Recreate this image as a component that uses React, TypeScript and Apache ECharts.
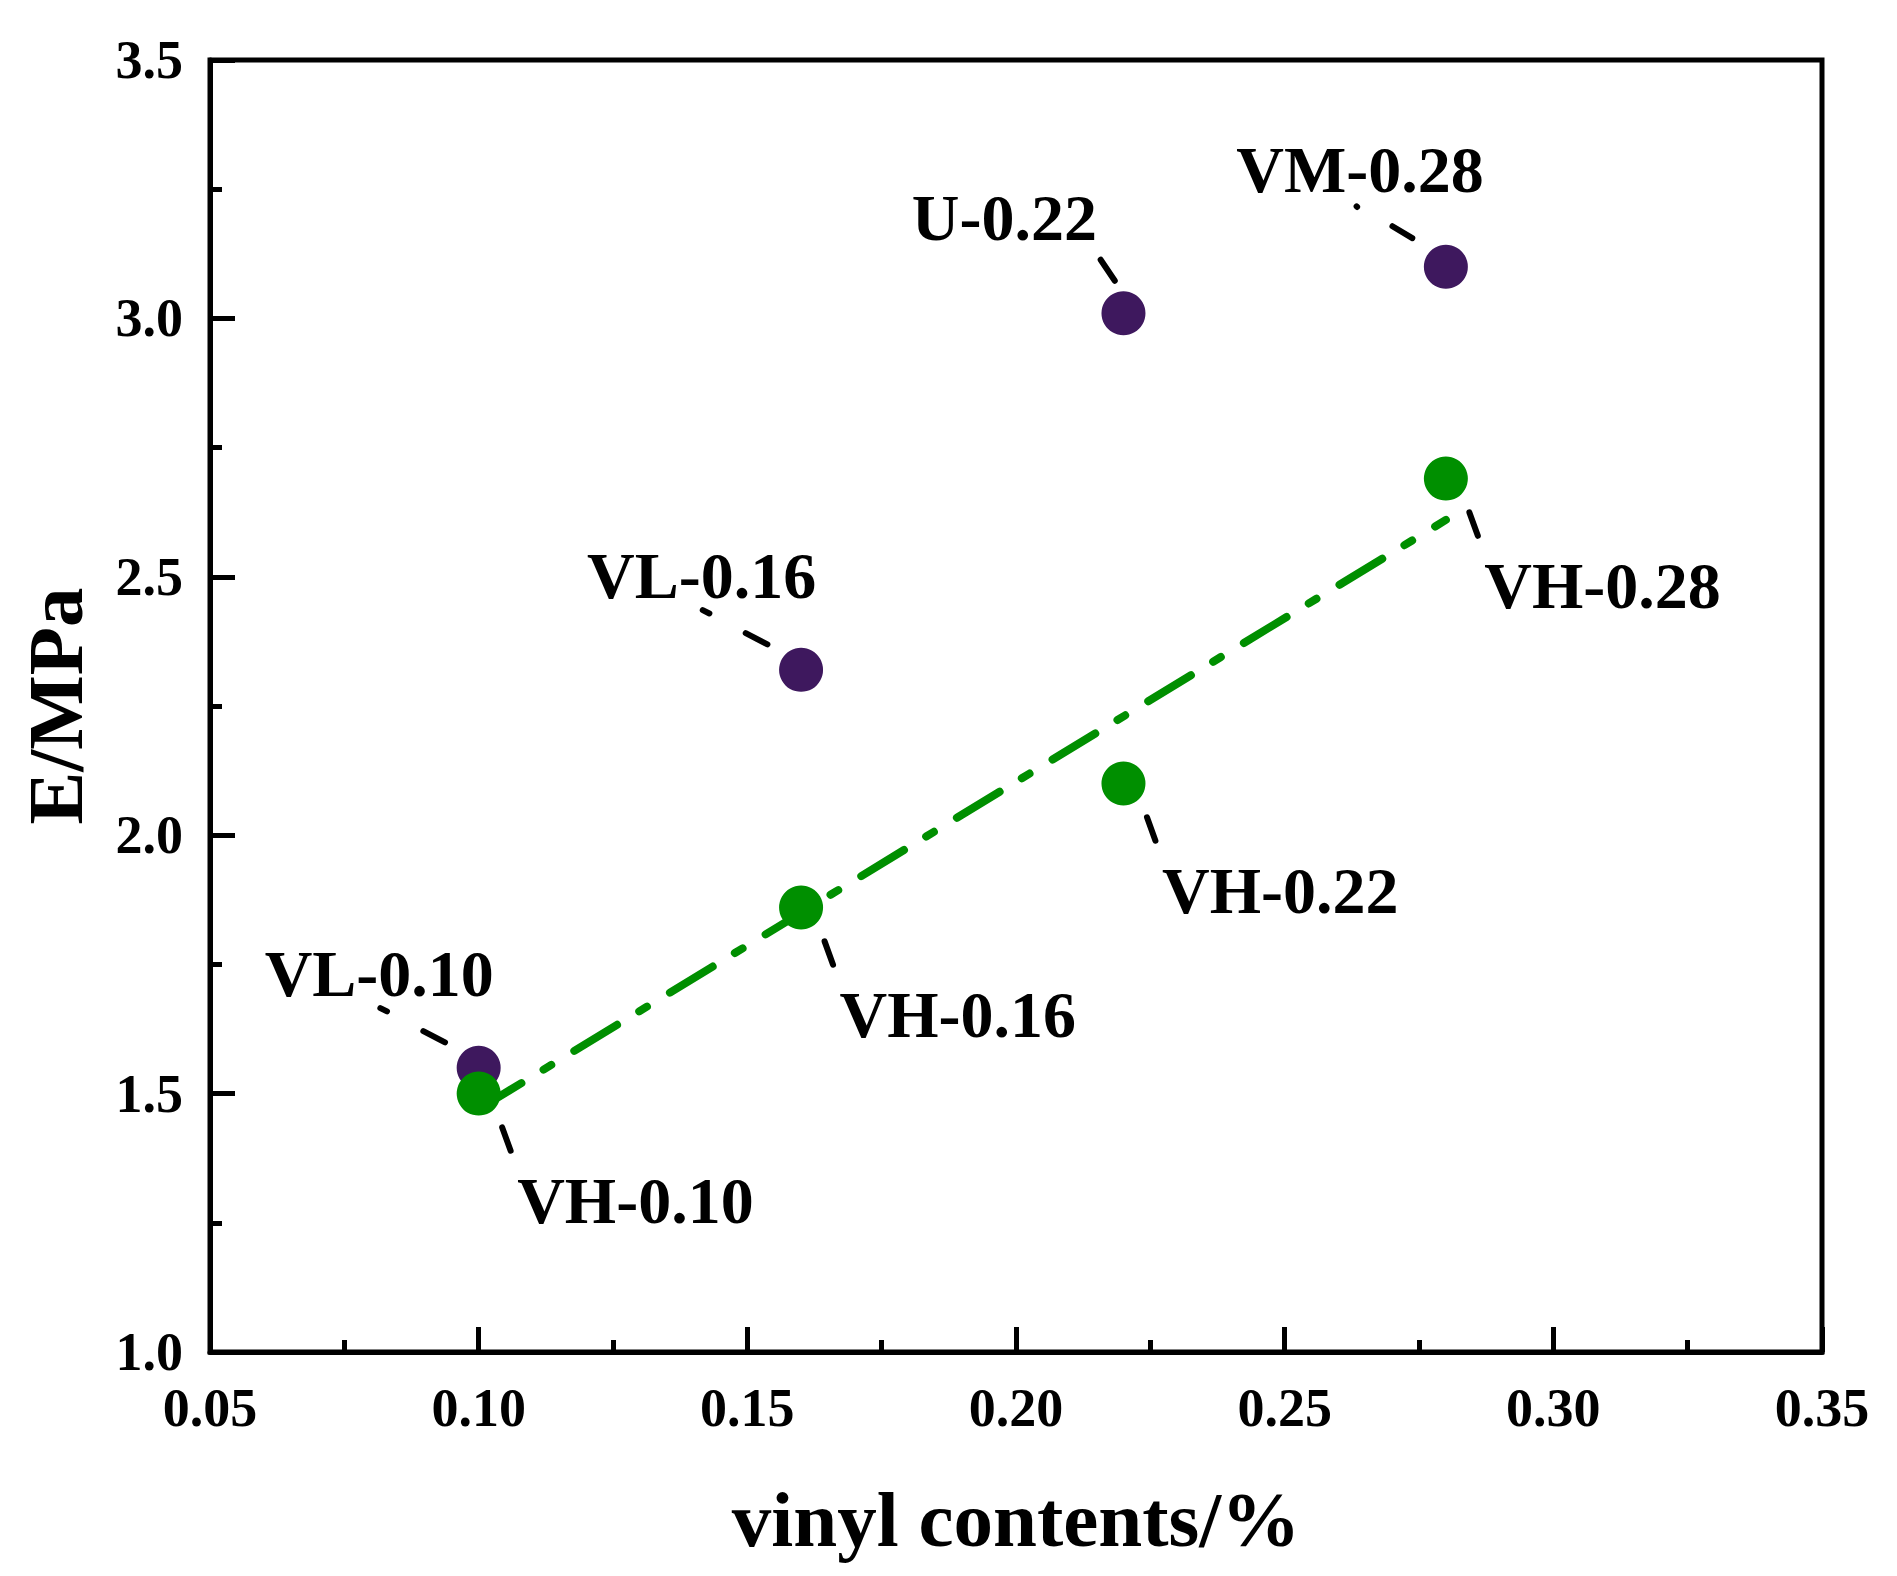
import React, { useEffect, useRef } from 'react';
import * as echarts from 'echarts';

// ---- data ----
const xTickValues = [0.05, 0.1, 0.15, 0.2, 0.25, 0.3, 0.35];
const yTickValues = [1.0, 1.5, 2.0, 2.5, 3.0, 3.5];

const purpleNames = ['VL-0.10', 'VL-0.16', 'U-0.22', 'VM-0.28'];
const purpleX = [0.10, 0.16, 0.22, 0.28];
const purpleY = [1.55, 2.32, 3.01, 3.10];

const greenNames = ['VH-0.10', 'VH-0.16', 'VH-0.22', 'VH-0.28'];
const greenX = [0.10, 0.16, 0.22, 0.28];
const greenY = [1.50, 1.86, 2.10, 2.69];

const fitX = [0.10, 0.28];
const fitY = [1.47, 2.61];

const xTitle = 'vinyl contents/%';
const yTitle = 'E/MPa';

// ---- styles (offsets in px relative to each point) ----
const PURPLE = '#3e185e';
const GREEN = '#008f00';
const FONT = '"Liberation Serif", "Times New Roman", serif';

type LabelStyle = { dx: number; base: number; segs: number[][] };
const LABEL_STYLES: Record<string, LabelStyle> = {
  VL: { dx: -214, base: -72, segs: [[-31, -24, -58, -38], [-89, -55, -101, -61]] },
  U: { dx: -211.6, base: -73.7, segs: [[-7, -30, -24.5, -56]] },
  VM: { dx: -209.5, base: -75, segs: [[-31, -27, -56, -42], [-87, -58, -91, -62]] },
  VH: { dx: 38.5, base: 128.5, segs: [[22.5, 31, 33, 60]] },
};
const LABEL_FONT_SIZE = 66;
const LEADER_WIDTH = 6;

function shrink(seg: number[], r: number): number[] {
  const [x1, y1, x2, y2] = seg;
  const dx = x2 - x1;
  const dy = y2 - y1;
  const L = Math.hypot(dx, dy);
  if (L <= 2 * r + 0.5) {
    const mx = (x1 + x2) / 2;
    const my = (y1 + y2) / 2;
    return [mx - 0.25, my - 0.25, mx + 0.25, my + 0.25];
  }
  const ux = dx / L;
  const uy = dy / L;
  return [x1 + ux * r, y1 + uy * r, x2 - ux * r, y2 - uy * r];
}

export default function App() {
  const ref = useRef<HTMLDivElement>(null);

  useEffect(() => {
    document.body.style.margin = '0';
    const el = ref.current!;
    const chart = echarts.init(el, undefined, { renderer: 'svg' });

    const tickFont = { fontFamily: FONT, fontWeight: 'bold' as const, fontSize: 54, color: '#000' };
    const titleFont = { fontFamily: FONT, fontWeight: 'bold' as const, fontSize: 79, color: '#000' };

    chart.setOption({
      animation: false,
      backgroundColor: '#fff',
      grid: {
        left: 210,
        right: 75,
        top: 60,
        bottom: 224,
        show: true,
        borderColor: '#000',
        borderWidth: 5,
        backgroundColor: 'transparent',
      },
      xAxis: {
        type: 'value',
        min: xTickValues[0],
        max: xTickValues[xTickValues.length - 1],
        interval: 0.05,
        name: xTitle,
        nameLocation: 'middle',
        nameGap: 128,
        nameTextStyle: titleFont,
        axisLine: { show: true, lineStyle: { color: '#000', width: 5 } },
        axisTick: { show: true, inside: true, length: 25, lineStyle: { color: '#000', width: 5 } },
        minorTick: { show: true, splitNumber: 2, length: 12, lineStyle: { color: '#000', width: 5 } },
        splitLine: { show: false },
        minorSplitLine: { show: false },
        axisLabel: {
          ...tickFont,
          margin: 29,
          formatter: (v: number) => v.toFixed(2),
        },
      },
      yAxis: {
        type: 'value',
        min: yTickValues[0],
        max: yTickValues[yTickValues.length - 1],
        interval: 0.5,
        name: yTitle,
        nameLocation: 'middle',
        nameGap: 115,
        nameRotate: 90,
        nameTextStyle: titleFont,
        axisLine: { show: true, lineStyle: { color: '#000', width: 5 } },
        axisTick: { show: true, inside: true, length: 25, lineStyle: { color: '#000', width: 5 } },
        minorTick: { show: true, splitNumber: 2, length: 12, lineStyle: { color: '#000', width: 5 } },
        splitLine: { show: false },
        minorSplitLine: { show: false },
        axisLabel: {
          ...tickFont,
          margin: 27,
          formatter: (v: number) => v.toFixed(1),
        },
      },
      series: [
        {
          name: 'fit',
          type: 'line',
          data: fitX.map((x, i) => [x, fitY[i]]),
          showSymbol: false,
          symbol: 'none',
          z: 1,
          lineStyle: { color: GREEN, width: 8, type: [50, 26, 9, 27], cap: 'round' },
        },
        {
          name: 'purple',
          type: 'scatter',
          data: purpleX.map((x, i) => ({ name: purpleNames[i], value: [x, purpleY[i]] })),
          symbol: 'circle',
          symbolSize: 44,
          z: 3,
          itemStyle: { color: PURPLE, opacity: 1 },
        },
        {
          name: 'green',
          type: 'scatter',
          data: greenX.map((x, i) => ({ name: greenNames[i], value: [x, greenY[i]] })),
          symbol: 'circle',
          symbolSize: 44,
          z: 4,
          itemStyle: { color: GREEN, opacity: 1 },
        },
      ],
    });

    const elements: any[] = [];
    const addLabel = (name: string, x: number, y: number) => {
      const key = name.split('-')[0];
      const st = LABEL_STYLES[key];
      const p = chart.convertToPixel({ gridIndex: 0 }, [x, y]) as number[];
      st.segs.forEach((s) => {
        const [x1, y1, x2, y2] = shrink(s, LEADER_WIDTH / 2);
        elements.push({
          type: 'line',
          z: 2,
          shape: { x1: p[0] + x1, y1: p[1] + y1, x2: p[0] + x2, y2: p[1] + y2 },
          style: { stroke: '#000', fill: null, lineWidth: LEADER_WIDTH, lineCap: 'round' },
        });
      });
      elements.push({
        type: 'text',
        z: 5,
        x: p[0] + st.dx,
        y: p[1] + st.base - 22,
        style: {
          text: name,
          font: `bold ${LABEL_FONT_SIZE}px ${FONT}`,
          fill: '#000',
          align: 'left',
          verticalAlign: 'middle',
          textAlign: 'left',
          textVerticalAlign: 'middle',
        },
      });
    };
    purpleNames.forEach((n, i) => addLabel(n, purpleX[i], purpleY[i]));
    greenNames.forEach((n, i) => addLabel(n, greenX[i], greenY[i]));

    chart.setOption({ graphic: { elements } });

    return () => {
      chart.dispose();
    };
  }, []);

  return (
    <div
      ref={ref}
      style={{ position: 'fixed', left: 0, top: 0, width: 1897, height: 1576, background: '#fff' }}
    />
  );
}
